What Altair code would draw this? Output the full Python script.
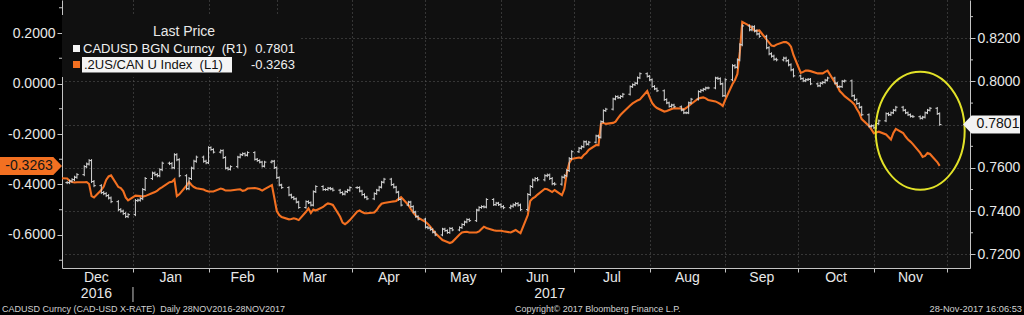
import altair as alt
import pandas as pd

# ---------------- CADUSD BGN Curncy daily closes (right axis) ----------------
cad_dec16 = [0.7532, 0.7539, 0.7546, 0.7557, 0.7569, 0.7606, 0.7618, 0.7634, 0.7537, 0.7518,
             0.7486, 0.7481, 0.7472, 0.7461, 0.7444, 0.7407, 0.7400, 0.7389, 0.7375, 0.7384]
cad_jan17 = [0.7449, 0.7451, 0.7458, 0.7500, 0.7551, 0.7576, 0.7569, 0.7564, 0.7592, 0.7622, 0.7620,
             0.7601, 0.7661, 0.7638, 0.7564, 0.7504, 0.7551, 0.7599, 0.7631, 0.7650, 0.7631, 0.7624]
cad_feb17 = [0.7694, 0.7685, 0.7673, 0.7680, 0.7648, 0.7599, 0.7594, 0.7606, 0.7650, 0.7661,
             0.7666, 0.7659, 0.7671, 0.7640, 0.7634, 0.7627, 0.7608, 0.7627, 0.7631, 0.7601]
cad_mar17 = [0.7555, 0.7521, 0.7509, 0.7475, 0.7464, 0.7457, 0.7442, 0.7417, 0.7444, 0.7439, 0.7428, 0.7490,
             0.7514, 0.7500, 0.7500, 0.7506, 0.7503, 0.7497, 0.7486, 0.7479, 0.7490, 0.7497, 0.7509]
cad_apr17 = [0.7509, 0.7493, 0.7477, 0.7465, 0.7457, 0.7481, 0.7497, 0.7511, 0.7534, 0.7548,
             0.7523, 0.7511, 0.7488, 0.7454, 0.7428, 0.7442, 0.7421, 0.7396, 0.7375, 0.7363]
cad_may17 = [0.7326, 0.7322, 0.7315, 0.7303, 0.7290, 0.7317, 0.7310, 0.7301, 0.7320, 0.7313, 0.7324, 0.7338,
             0.7350, 0.7361, 0.7356, 0.7405, 0.7417, 0.7421, 0.7419, 0.7454, 0.7430, 0.7437, 0.7430]
cad_jun17 = [0.7421, 0.7416, 0.7423, 0.7429, 0.7435, 0.7428, 0.7407, 0.7477, 0.7514, 0.7544, 0.7551,
             0.7545, 0.7564, 0.7567, 0.7551, 0.7527, 0.7525, 0.7557, 0.7564, 0.7588, 0.7643, 0.7675]
cad_jul17 = [0.7691, 0.7698, 0.7721, 0.7710, 0.7719, 0.7748, 0.7742, 0.7814, 0.7865, 0.7872, 0.7919,
             0.7930, 0.7925, 0.7931, 0.7941, 0.7976, 0.7985, 0.7992, 0.8017, 0.8036, 0.8024]
cad_aug17 = [0.8008, 0.7977, 0.7966, 0.7957, 0.7916, 0.7901, 0.7885, 0.7891, 0.7883, 0.7868, 0.7855, 0.7855,
             0.7901, 0.7918, 0.7953, 0.7959, 0.7964, 0.7970, 0.7970, 0.8016, 0.8013, 0.7989, 0.7934]
cad_sep17 = [0.8008, 0.8073, 0.8066, 0.8100, 0.8170, 0.8257, 0.8239, 0.8253, 0.8234, 0.8220, 0.8209,
             0.8156, 0.8128, 0.8117, 0.8103, 0.8100, 0.8108, 0.8096, 0.8077, 0.8054, 0.8026]
cad_oct17 = [0.8013, 0.8003, 0.8008, 0.8010, 0.7989, 0.7980, 0.7992, 0.7996, 0.8006, 0.8016, 0.7992,
             0.7976, 0.7976, 0.8001, 0.8003, 0.7934, 0.7916, 0.7898, 0.7881, 0.7846, 0.7793, 0.7795]
cad_nov17 = [0.7786, 0.7805, 0.7818, 0.7851, 0.7846, 0.7855, 0.7867, 0.7881, 0.7867, 0.7855,
             0.7846, 0.7839, 0.7837, 0.7830, 0.7835, 0.7855, 0.7867, 0.7876, 0.7851, 0.7801]
# typical intraday wick beyond open/close, estimated per month from the bar heights
cad_wick = [0.0007, 0.0007, 0.0006, 0.0006, 0.0006, 0.0006, 0.0007, 0.0006, 0.0006, 0.0007, 0.0006, 0.0006]

# ---------------- .2US/CAN U Index daily values (left axis) ----------------
spr_dec16 = [-0.375, -0.376, -0.386, -0.390, -0.392, -0.391, -0.391, -0.390, -0.398, -0.446, -0.451,
             -0.422, -0.408, -0.382, -0.368, -0.364, -0.410, -0.414, -0.426, -0.451, -0.463]
spr_jan17 = [-0.444, -0.445, -0.446, -0.448, -0.446, -0.434, -0.430, -0.424, -0.416, -0.410, -0.391,
             -0.389, -0.380, -0.446, -0.439, -0.404, -0.390, -0.402, -0.410, -0.415, -0.420, -0.425]
spr_feb17 = [-0.428, -0.428, -0.428, -0.416, -0.419, -0.424, -0.424, -0.424, -0.420, -0.419,
             -0.425, -0.423, -0.416, -0.414, -0.416, -0.419, -0.424, -0.418, -0.402, -0.453]
spr_mar17 = [-0.505, -0.521, -0.529, -0.538, -0.537, -0.534, -0.537, -0.541, -0.508, -0.495, -0.513, -0.499,
             -0.503, -0.489, -0.481, -0.475, -0.477, -0.481, -0.528, -0.551, -0.557, -0.550, -0.541]
spr_apr17 = [-0.507, -0.503, -0.509, -0.514, -0.514, -0.511, -0.501, -0.487, -0.476, -0.473,
             -0.468, -0.467, -0.465, -0.457, -0.450, -0.481, -0.497, -0.511, -0.523, -0.531]
spr_may17 = [-0.548, -0.556, -0.567, -0.580, -0.592, -0.620, -0.624, -0.628, -0.632, -0.628, -0.598, -0.590,
             -0.588, -0.587, -0.590, -0.590, -0.586, -0.576, -0.567, -0.572, -0.581, -0.583, -0.583]
spr_jun17 = [-0.583, -0.585, -0.590, -0.585, -0.580, -0.587, -0.593, -0.521, -0.465, -0.455, -0.449,
             -0.440, -0.417, -0.419, -0.424, -0.430, -0.422, -0.442, -0.418, -0.354, -0.315, -0.299]
spr_jul17 = [-0.293, -0.295, -0.283, -0.275, -0.263, -0.244, -0.244, -0.160, -0.156, -0.160, -0.156,
             -0.151, -0.137, -0.125, -0.115, -0.087, -0.079, -0.073, -0.067, -0.063, -0.030]
spr_aug17 = [-0.055, -0.077, -0.089, -0.097, -0.111, -0.109, -0.105, -0.101, -0.098, -0.099, -0.103, -0.097,
             -0.089, -0.081, -0.059, -0.057, -0.055, -0.059, -0.065, -0.071, -0.076, -0.081, -0.089]
spr_sep17 = [-0.065, -0.002, 0.014, 0.038, 0.125, 0.244, 0.228, 0.220, 0.210, 0.209, 0.210,
             0.174, 0.162, 0.150, 0.148, 0.154, 0.164, 0.164, 0.158, 0.146, 0.113]
spr_oct17 = [0.042, 0.046, 0.051, 0.051, 0.049, 0.040, 0.040, 0.040, 0.046, 0.051, 0.004,
             -0.010, -0.030, -0.040, -0.050, -0.073, -0.083, -0.101, -0.117, -0.141, -0.168, -0.182]
spr_nov17 = [-0.197, -0.194, -0.191, -0.202, -0.212, -0.222, -0.196, -0.180, -0.196, -0.210,
             -0.222, -0.230, -0.240, -0.275, -0.291, -0.287, -0.275, -0.279, -0.311, -0.3263]

# ---------------- axis / label values ----------------
left_ticks = [-0.6, -0.4, -0.2, 0.0, 0.2]
left_minor = [0.3, 0.1, -0.1, -0.3, -0.5, -0.7]
right_ticks = [0.72, 0.74, 0.76, 0.78, 0.80, 0.82]
right_minor = [0.83, 0.81, 0.79, 0.77, 0.75, 0.73]
grid_months = [(2017, m) for m in range(1, 13)]
month_names = ["Dec", "Jan", "Feb", "Mar", "Apr", "May", "Jun", "Jul", "Aug", "Sep", "Oct", "Nov"]
month_label_dates = ["2016-12-17", "2017-01-16T12:00", "2017-02-15", "2017-03-16T12:00", "2017-04-16",
                     "2017-05-16T12:00", "2017-06-16", "2017-07-16T12:00", "2017-08-16T12:00",
                     "2017-09-16", "2017-10-16T12:00", "2017-11-16"]
year_names = ["2016", "2017"]
year_label_dates = ["2016-12-17", "2017-06-21"]
year_break_date = ["2017-01-01"]
last_cad = 0.7801
last_spr = -0.3263
circle_center_date = ["2017-11-20"]
circle_center_cad = [0.7772]

month_bounds = [("2016-12-01", "2016-12-31"), ("2017-01-01", "2017-01-31"), ("2017-02-01", "2017-02-28"),
                ("2017-03-01", "2017-03-31"), ("2017-04-01", "2017-04-30"), ("2017-05-01", "2017-05-31"),
                ("2017-06-01", "2017-06-30"), ("2017-07-01", "2017-07-31"), ("2017-08-01", "2017-08-31"),
                ("2017-09-01", "2017-09-30"), ("2017-10-01", "2017-10-31"), ("2017-11-01", "2017-11-28")]
cad_lists = [cad_dec16, cad_jan17, cad_feb17, cad_mar17, cad_apr17, cad_may17,
             cad_jun17, cad_jul17, cad_aug17, cad_sep17, cad_oct17, cad_nov17]
spr_lists = [spr_dec16, spr_jan17, spr_feb17, spr_mar17, spr_apr17, spr_may17,
             spr_jun17, spr_jul17, spr_aug17, spr_sep17, spr_oct17, spr_nov17]
cad_first_day = "2016-12-05"
spr_first_day = "2016-12-02"


def build(lists, name, first_day, extra=None):
    rows = []
    for k, ((start, end), vals) in enumerate(zip(month_bounds, lists)):
        if k == 0:
            start = first_day
        for d, v in zip(pd.bdate_range(start, end), vals):
            row = {"date": d.strftime("%Y-%m-%d"), name: v}
            if extra is not None:
                row["wick"] = extra[k]
            rows.append(row)
    return pd.DataFrame(rows)


cad = build(cad_lists, "close", cad_first_day, cad_wick)
cad["open"] = cad["close"].shift(1).fillna(cad["close"])
cad["lo"] = cad[["open", "close"]].min(axis=1) - cad["wick"]
cad["hi"] = cad[["open", "close"]].max(axis=1) + cad["wick"]
spr = build(spr_lists, "spread", spr_first_day)

# ---------------- style ----------------
ORANGE = "#f37021"
WHITE = "#d4d4d4"
AX = "#c4c4c4"
GRID = "#5c5c5c"
LABEL = "#e8e8e8"
PLOT_BG = "#101010"
FONT = "Liberation Sans"

x_scale = alt.Scale(domain=[alt.DateTime(year=2016, month=12, date=2, hours=21, utc=True),
                            alt.DateTime(year=2017, month=12, date=10, hours=10, minutes=30, utc=True)])
x_axis = alt.Axis(values=[alt.DateTime(year=y, month=m, date=1, utc=True) for y, m in grid_months],
                  labels=False, title=None, grid=True, gridDash=[1, 3], gridColor=GRID,
                  tickSize=4, tickColor=AX, domainColor=AX, orient="bottom")


def X(field="date"):
    return alt.X(f"{field}:T", scale=x_scale, axis=x_axis)


minus_fix = "replace(datum.label, '\u2212', '-')"
yl_scale = alt.Scale(domain=[-0.7307, 0.3307], nice=False, zero=False)
yl_axis = alt.Axis(orient="left", values=left_ticks, format=".4f", title=None, grid=False,
                   tickSize=5, labelPadding=2, labelExpr=minus_fix)
yr_scale = alt.Scale(domain=[0.7137, 0.8377], nice=False, zero=False)
yr_axis = alt.Axis(orient="right", values=right_ticks, format=".4f", title=None, grid=True,
                   gridDash=[1, 3], gridColor=GRID, tickSize=5, labelPadding=2,
                   labelExpr="abs(datum.value - 0.78) < 0.001 ? '' : datum.label")


def YL(field):
    return alt.Y(f"{field}:Q", scale=yl_scale, axis=yl_axis)


def YR(field):
    return alt.Y(f"{field}:Q", scale=yr_scale, axis=yr_axis)


# ---------------- left (spread) group ----------------
spread_line = alt.Chart(spr).mark_line(color=ORANGE, strokeWidth=2.1, clip=True).encode(
    x=X(), y=YL("spread"))
left_minor_rule = alt.Chart(pd.DataFrame({"spread": left_minor})).mark_rule(color=AX).encode(
    y=YL("spread"), x=alt.value(-3), x2=alt.value(0))
tag_path_l = "M -1 -0.29 L 0.72 -0.29 L 1 0 L 0.72 0.29 L -1 0.29 Z"
left_tag_df = pd.DataFrame({"spread": [last_spr], "label": [f"{last_spr:.4f}"]})
left_tag = alt.Chart(left_tag_df).mark_point(shape=tag_path_l, size=3844, filled=True,
                                             fill=ORANGE, opacity=1, strokeWidth=0).encode(
    x=alt.value(-31), y=YL("spread"))
left_tag_text = alt.Chart(left_tag_df).mark_text(font=FONT, fontSize=14, color="#161616",
                                                 align="center", baseline="middle").encode(
    x=alt.value(-33), y=YL("spread"), text="label:N")
left_group = alt.layer(spread_line, left_minor_rule, left_tag, left_tag_text)

# ---------------- right (CADUSD) group ----------------
bars = alt.Chart(cad).mark_rule(color=WHITE, strokeWidth=1).encode(
    x=X(), y=YR("lo"), y2="hi:Q")
open_ticks = alt.Chart(cad).mark_rule(color=WHITE, strokeWidth=1, xOffset=-1.8, x2Offset=0).encode(
    x=X(), x2="date:T", y=YR("open"))
close_ticks = alt.Chart(cad).mark_rule(color=WHITE, strokeWidth=1, xOffset=0, x2Offset=1.8).encode(
    x=X(), x2="date:T", y=YR("close"))
right_minor_rule = alt.Chart(pd.DataFrame({"close": right_minor})).mark_rule(color=AX).encode(
    y=YR("close"), x=alt.value(908), x2=alt.value(911))
ellipse_path = "M -0.754 0 A 0.754 1 0 1 0 0.754 0 A 0.754 1 0 1 0 -0.754 0 Z"
circle = alt.Chart(pd.DataFrame({"date": circle_center_date, "close": circle_center_cad})).mark_point(
    shape=ellipse_path, size=13924, filled=False, stroke="#e2e228", strokeWidth=2, opacity=1).encode(
    x=X(), y=YR("close"))
tag_path_r = "M 1 -0.316 L -0.7 -0.316 L -1 0 L -0.7 0.316 L 1 0.316 Z"
right_tag_df = pd.DataFrame({"close": [last_cad], "label": [f"{last_cad:.4f}"]})
right_tag = alt.Chart(right_tag_df).mark_point(shape=tag_path_r, size=3249, filled=True,
                                               fill="#f2f2f2", opacity=1, strokeWidth=0).encode(
    x=alt.value(929.5), y=YR("close"))
right_tag_text = alt.Chart(right_tag_df).mark_text(font=FONT, fontSize=14, color="#111111",
                                                   align="center", baseline="middle").encode(
    x=alt.value(936), y=YR("close"), text="label:N")
right_group = alt.layer(bars, open_ticks, close_ticks, right_minor_rule, circle, right_tag, right_tag_text)


# ---------------- texts and annotations ----------------
def txt(s, x, y, size=14, color=LABEL, align="left", font=FONT):
    return alt.Chart(pd.DataFrame({"t": [s]})).mark_text(
        font=font, fontSize=size, color=color, align=align, baseline="middle").encode(
        x=alt.value(x), y=alt.value(y), text="t:N")


def box(x1, x2, y1, y2, color):
    return alt.Chart(pd.DataFrame({"t": [0]})).mark_rect(color=color).encode(
        x=alt.value(x1), x2=alt.value(x2), y=alt.value(y1), y2=alt.value(y2))


legend_bg = box(0, 238, 15, 77, PLOT_BG)
legend_sq1 = box(11, 18, 45, 52, "#f4f4f4")
legend_sq2 = box(11, 18, 61, 68, ORANGE)
legend_hl = box(20, 170, 57, 72.5, "#f4f4f4")
nb = "\u00a0\u00a0"
legend_texts = [
    txt("Last Price", 122, 32, 14, align="center"),
    txt("CADUSD BGN Curncy" + nb + "(R1)", 21, 49, 13, "#f0f0f0"),
    txt(f"{last_cad:.4f}", 233, 49, 13, "#f0f0f0", align="right"),
    txt(".2US/CAN U Index" + nb + "(L1)", 22, 65, 13, "#111111"),
    txt(f"{last_spr:.4f}", 233, 65, 13, "#f0f0f0", align="right"),
]

month_labels = alt.Chart(pd.DataFrame({"date": month_label_dates, "label": month_names})).mark_text(
    font=FONT, fontSize=14, color=LABEL, align="center", baseline="middle").encode(
    x=X(), y=alt.value(278), text="label:N")
year_labels = alt.Chart(pd.DataFrame({"date": year_label_dates, "label": year_names})).mark_text(
    font=FONT, fontSize=14, color=LABEL, align="center", baseline="middle").encode(
    x=X(), y=alt.value(294), text="label:N")
year_break = alt.Chart(pd.DataFrame({"date": year_break_date})).mark_rule(color=AX).encode(
    x=X(), y=alt.value(287), y2=alt.value(302))

footer = [
    txt("CADUSD Curncy (CAD-USD X-RATE)" + nb + "Daily 28NOV2016-28NOV2017", -60, 309, 9, "#d2d2d2"),
    txt("Copyright\u00a9 2017 Bloomberg Finance L.P.", 453, 309, 9, "#d2d2d2"),
    txt("28-Nov-2017 16:06:53", 960, 309, 9.3, "#d2d2d2", align="right"),
]

chart = alt.layer(
    legend_bg, left_group, right_group, legend_sq1, legend_sq2, legend_hl, *legend_texts,
    month_labels, year_labels, year_break, *footer
).resolve_scale(y="independent").properties(
    width=908, height=268,
    padding={"left": 62, "top": 0, "right": 54, "bottom": 47},
    autosize=alt.AutoSizeParams(type="none"),
).configure(background="#000000").configure_view(fill=PLOT_BG, strokeWidth=0).configure_axis(
    labelFont=FONT, labelFontSize=14, labelColor=LABEL, domainColor=AX, tickColor=AX,
    domainWidth=1, tickWidth=1)

chart.save("out.html", embed_options={"renderer": "svg", "actions": False})
